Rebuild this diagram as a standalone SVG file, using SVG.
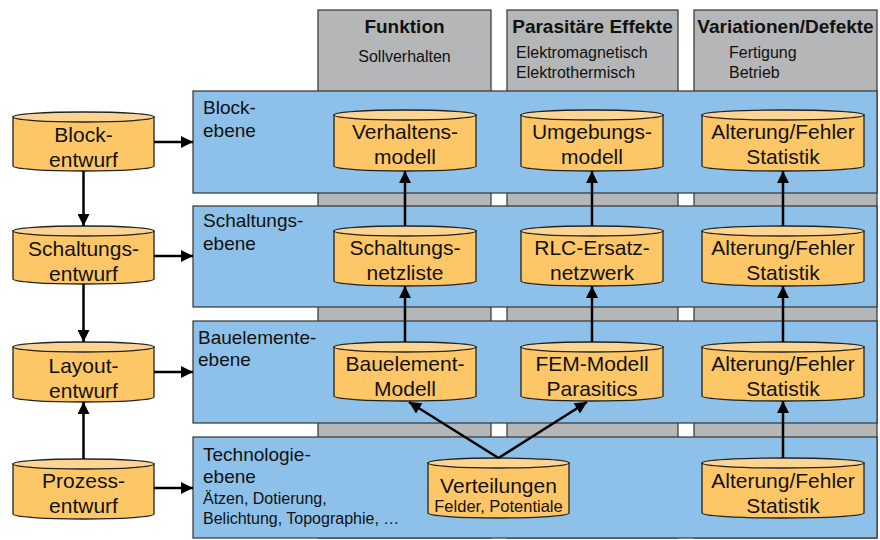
<svg xmlns="http://www.w3.org/2000/svg" width="880" height="540" viewBox="0 0 880 540">
<style>
.col{fill:#b5b6b8;stroke:#333;stroke-width:1.2}
.band{fill:#8dc1e9;stroke:#333;stroke-width:1.2}
.body{fill:#fdc768;stroke:#222;stroke-width:1.3}
.top{fill:#fdd592;stroke:#222;stroke-width:1.3}
.t{font-family:"Liberation Sans",Arial,sans-serif;fill:#111}
.c{font-size:21px;text-anchor:middle}
.h{font-size:19px;font-weight:bold;text-anchor:middle}
.s{font-size:16px}
.lab{font-size:19px}
.con{stroke:#000;stroke-width:2.5;fill:none}
</style>
<defs>
<marker id="ah" viewBox="0 0 10 10" refX="10" refY="5" markerWidth="5.2" markerHeight="4.8" markerUnits="strokeWidth" orient="auto">
<path d="M0,0 L10,5 L0,10 Z" fill="#000"/>
</marker>
</defs>
<g id="columns">
<rect class="col" x="318" y="10" width="173" height="528"/>
<rect class="col" x="507" y="10" width="171" height="528"/>
<rect class="col" x="694" y="10" width="183" height="528"/>
<text class="t h" x="404.5" y="33">Funktion</text>
<text class="t s" x="404.5" y="62" text-anchor="middle">Sollverhalten</text>
<text class="t h" x="592.5" y="33">Parasitäre Effekte</text>
<text class="t s" x="516" y="58">Elektromagnetisch</text>
<text class="t s" x="516" y="78">Elektrothermisch</text>
<text class="t h" x="785.5" y="33">Variationen/Defekte</text>
<text class="t s" x="729" y="58">Fertigung</text>
<text class="t s" x="729" y="78">Betrieb</text>
</g>
<g id="band-block">
<rect class="band" x="193" y="91" width="684" height="102"/>
<text class="t lab" x="203" y="114">Block-</text>
<text class="t lab" x="203" y="137">ebene</text>
</g>
<g id="band-schaltung">
<rect class="band" x="193" y="206" width="684" height="101"/>
<text class="t lab" x="203" y="227">Schaltungs-</text>
<text class="t lab" x="203" y="250">ebene</text>
</g>
<g id="band-bauelement">
<rect class="band" x="193" y="321" width="684" height="102"/>
<text class="t lab" x="198" y="344">Bauelemente-</text>
<text class="t lab" x="198" y="366">ebene</text>
</g>
<g id="band-technologie">
<rect class="band" x="193" y="437" width="684" height="101"/>
<text class="t lab" x="203" y="461">Technologie-</text>
<text class="t lab" x="203" y="483">ebene</text>
<text class="t s" x="203" y="504">Ätzen, Dotierung,</text>
<text class="t s" x="203" y="524">Belichtung, Topographie, …</text>
</g>

<g id="n-blockentwurf">
<path class="body" d="M13,117 V166 A70.5,5 0 0 0 154,166 V117 Z"/>
<ellipse class="top" cx="83.5" cy="117" rx="70.5" ry="5"/>
<text class="t c" x="83.5" y="142">Block-</text>
<text class="t c" x="83.5" y="167">entwurf</text>
</g>
<g id="n-schaltungsentwurf">
<path class="body" d="M13,231 V279 A70.5,5 0 0 0 154,279 V231 Z"/>
<ellipse class="top" cx="83.5" cy="231" rx="70.5" ry="5"/>
<text class="t c" x="83.5" y="256">Schaltungs-</text>
<text class="t c" x="83.5" y="281">entwurf</text>
</g>
<g id="n-layoutentwurf">
<path class="body" d="M13,347 V397 A70.5,5 0 0 0 154,397 V347 Z"/>
<ellipse class="top" cx="83.5" cy="347" rx="70.5" ry="5"/>
<text class="t c" x="83.5" y="373">Layout-</text>
<text class="t c" x="83.5" y="398">entwurf</text>
</g>
<g id="n-prozessentwurf">
<path class="body" d="M13,464 V514 A70.5,5 0 0 0 154,514 V464 Z"/>
<ellipse class="top" cx="83.5" cy="464" rx="70.5" ry="5"/>
<text class="t c" x="83.5" y="488">Prozess-</text>
<text class="t c" x="83.5" y="513">entwurf</text>
</g>

<g id="n-verhaltensmodell">
<path class="body" d="M334,115 V166 A71,5 0 0 0 476,166 V115 Z"/>
<ellipse class="top" cx="405" cy="115" rx="71" ry="5"/>
<text class="t c" x="405" y="139">Verhaltens-</text>
<text class="t c" x="405" y="164">modell</text>
</g>
<g id="n-umgebungsmodell">
<path class="body" d="M521,115 V166 A71,5 0 0 0 663,166 V115 Z"/>
<ellipse class="top" cx="592" cy="115" rx="71" ry="5"/>
<text class="t c" x="592" y="139">Umgebungs-</text>
<text class="t c" x="592" y="164">modell</text>
</g>
<g id="n-alterung-block">
<path class="body" d="M702,115 V166 A81,5 0 0 0 864,166 V115 Z"/>
<ellipse class="top" cx="783" cy="115" rx="81" ry="5"/>
<text class="t c" x="783" y="139">Alterung/Fehler</text>
<text class="t c" x="783" y="164">Statistik</text>
</g>

<g id="n-schaltungsnetzliste">
<path class="body" d="M334,231 V281 A71,5 0 0 0 476,281 V231 Z"/>
<ellipse class="top" cx="405" cy="231" rx="71" ry="5"/>
<text class="t c" x="405" y="255">Schaltungs-</text>
<text class="t c" x="405" y="280">netzliste</text>
</g>
<g id="n-rlc">
<path class="body" d="M521,231 V281 A71,5 0 0 0 663,281 V231 Z"/>
<ellipse class="top" cx="592" cy="231" rx="71" ry="5"/>
<text class="t c" x="592" y="255">RLC-Ersatz-</text>
<text class="t c" x="592" y="280">netzwerk</text>
</g>
<g id="n-alterung-schaltung">
<path class="body" d="M702,231 V281 A81,5 0 0 0 864,281 V231 Z"/>
<ellipse class="top" cx="783" cy="231" rx="81" ry="5"/>
<text class="t c" x="783" y="255">Alterung/Fehler</text>
<text class="t c" x="783" y="280">Statistik</text>
</g>

<g id="n-bauelementmodell">
<path class="body" d="M334,347 V396 A71,5 0 0 0 476,396 V347 Z"/>
<ellipse class="top" cx="405" cy="347" rx="71" ry="5"/>
<text class="t c" x="405" y="371">Bauelement-</text>
<text class="t c" x="405" y="396">Modell</text>
</g>
<g id="n-fem">
<path class="body" d="M521,347 V396 A71,5 0 0 0 663,396 V347 Z"/>
<ellipse class="top" cx="592" cy="347" rx="71" ry="5"/>
<text class="t c" x="592" y="371">FEM-Modell</text>
<text class="t c" x="592" y="396">Parasitics</text>
</g>
<g id="n-alterung-bauelement">
<path class="body" d="M702,347 V396 A81,5 0 0 0 864,396 V347 Z"/>
<ellipse class="top" cx="783" cy="347" rx="81" ry="5"/>
<text class="t c" x="783" y="371">Alterung/Fehler</text>
<text class="t c" x="783" y="396">Statistik</text>
</g>

<g id="n-verteilungen">
<path class="body" d="M428,463 V513 A70.5,5 0 0 0 569,513 V463 Z"/>
<ellipse class="top" cx="498.5" cy="463" rx="70.5" ry="5"/>
<text class="t c" x="498.5" y="493">Verteilungen</text>
<text class="t" x="498.5" y="512" font-size="16.5" text-anchor="middle">Felder, Potentiale</text>
</g>
<g id="n-alterung-technologie">
<path class="body" d="M702,463 V513 A81,5 0 0 0 864,513 V463 Z"/>
<ellipse class="top" cx="783" cy="463" rx="81" ry="5"/>
<text class="t c" x="783" y="488">Alterung/Fehler</text>
<text class="t c" x="783" y="513">Statistik</text>
</g>

<g id="connectors">
<line class="con" x1="83.5" y1="171" x2="83.5" y2="226" marker-end="url(#ah)"/>
<line class="con" x1="83.5" y1="284" x2="83.5" y2="342" marker-end="url(#ah)"/>
<line class="con" x1="83.5" y1="459" x2="83.5" y2="402" marker-end="url(#ah)"/>
<line class="con" x1="154" y1="142" x2="193" y2="142" marker-end="url(#ah)"/>
<line class="con" x1="154" y1="256" x2="193" y2="256" marker-end="url(#ah)"/>
<line class="con" x1="154" y1="372" x2="193" y2="372" marker-end="url(#ah)"/>
<line class="con" x1="154" y1="488" x2="193" y2="488" marker-end="url(#ah)"/>
<line class="con" x1="405" y1="226" x2="405" y2="171" marker-end="url(#ah)"/>
<line class="con" x1="592" y1="226" x2="592" y2="171" marker-end="url(#ah)"/>
<line class="con" x1="783" y1="226" x2="783" y2="171" marker-end="url(#ah)"/>
<line class="con" x1="405" y1="342" x2="405" y2="286" marker-end="url(#ah)"/>
<line class="con" x1="592" y1="342" x2="592" y2="286" marker-end="url(#ah)"/>
<line class="con" x1="783" y1="342" x2="783" y2="286" marker-end="url(#ah)"/>
<line class="con" x1="783" y1="458" x2="783" y2="401" marker-end="url(#ah)"/>
<line class="con" x1="498.5" y1="458" x2="409" y2="402" marker-end="url(#ah)"/>
<line class="con" x1="498.5" y1="458" x2="587" y2="402" marker-end="url(#ah)"/>
</g>
</svg>
